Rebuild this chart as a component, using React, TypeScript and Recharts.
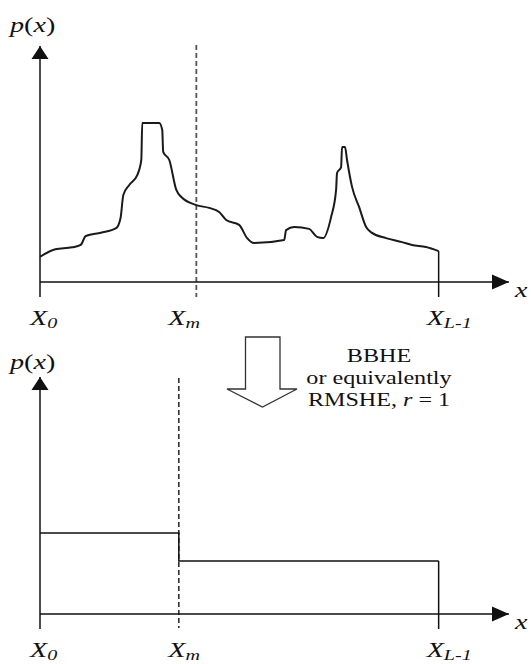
import React from 'react';
import { LineChart, Line, XAxis, YAxis, ReferenceLine, ReferenceDot, Customized } from 'recharts';

// ---------- data ----------
const X_DOMAIN_MAX = 300;
const Y_DOMAIN_MAX = 100;
const X_LAST = 255; // X_{L-1}
const XM_TOP = 100; // X_m in the upper panel
const XM_BOTTOM = 88.8; // X_m in the lower panel

const inputIntensity = [
  0, 9.8, 20.6, 26, 29.3, 39.0, 48.7, 51.5, 53.3, 57.1,
  62.2, 64.8, 65.4, 76.3, 78.2, 78.8, 82.7, 87.2, 90.4, 99.9,
  108.2, 114.6, 119.1, 127.4, 132.5, 137.0, 156.2, 157.4, 162.6, 172.1,
  177.2, 181.1, 186.2, 189.4, 190.0, 192.6, 193.2, 195.1, 196.4, 199.6,
  204.1, 208.6, 212.4, 221.3, 231.6, 238.0, 246.9, 255,
];
const inputDensity = [
  10.7, 13.9, 14.7, 15.7, 19.5, 20.9, 22.8, 27, 36.9, 41.1,
  45.3, 51.7, 67.4, 67.4, 64.4, 55.1, 51.7, 39.0, 36.0, 32.6,
  31.4, 29.7, 26.3, 24.2, 18.6, 16.5, 17.8, 22.0, 23.3, 22.5,
  19.1, 18.6, 27.5, 39.0, 46.2, 48.7, 57.2, 57.2, 51.7, 40.3,
  31.8, 23.3, 20.8, 18.6, 16.9, 15.7, 14.8, 13.1,
];

const outputIntensity = [0, XM_BOTTOM, X_LAST];
const outputDensity = [34.2, 22.4, 22.4];

const topTicks = [0, XM_TOP, X_LAST];
const bottomTicks = [0, XM_BOTTOM, X_LAST];
const tickSubscripts = ['0', 'm', 'L-1'];
const annotationLines = ['BBHE', 'or equivalently', 'RMSHE, '];

const topData = inputIntensity.map((x, i) => ({ x, p: inputDensity[i] }));
const bottomData = outputIntensity.map((x, i) => ({ x, p: outputDensity[i] }));

// ---------- style ----------
const FONT = '"Liberation Serif", "Times New Roman", serif';
const INK = '#111';
const SX = 1.34;

const makeTick = (ticks: number[], xm: number, offsets: number[]) => (props: any) => {
  const { x, y, payload } = props;
  const idx = ticks.indexOf(payload.value);
  const sub = tickSubscripts[idx] ?? '';
  const dx = offsets[idx] ?? 0;
  return (
    <g>
      {payload.value !== xm && (
        <line x1={x} y1={y} x2={x} y2={y + 15} stroke={INK} strokeWidth={1.5} />
      )}
      <text
        transform={`translate(${x + dx},${y + 43}) scale(${SX},1)`}
        fontFamily={FONT}
        fontSize={21}
        fontStyle="italic"
        fill={INK}
      >
        X
        <tspan fontSize={15} dy={3}>
          {sub}
        </tspan>
      </text>
    </g>
  );
};

const XArrow = (props: any) => {
  const { cx, cy } = props;
  return (
    <g>
      <polygon points={`${cx},${cy} ${cx - 17},${cy - 7.5} ${cx - 17},${cy + 7.5}`} fill={INK} />
      <text
        transform={`translate(${cx + 6},${cy + 15}) scale(${SX},1)`}
        fontFamily={FONT}
        fontSize={21}
        fontStyle="italic"
        fill={INK}
      >
        x
      </text>
    </g>
  );
};

const makeYArrow = (labelDy: number) => (props: any) => {
  const { cx, cy } = props;
  return (
    <g>
      <polygon points={`${cx},${cy} ${cx - 8.5},${cy + 13} ${cx + 8.5},${cy + 13}`} fill={INK} />
      <text
        transform={`translate(${cx - 30},${cy + labelDy}) scale(${SX},1)`}
        fontFamily={FONT}
        fontSize={21}
        fill={INK}
      >
        <tspan fontStyle="italic">p</tspan>(<tspan fontStyle="italic">x</tspan>)
      </text>
    </g>
  );
};

const HollowArrow = () => (
  <g>
    <polygon
      points="245.5,7 280,7 280,59 297,59 262.5,77 227,59 245.5,59"
      fill="#fff"
      stroke="#333"
      strokeWidth={1.3}
    />
    {annotationLines.map((t, i) => (
      <text
        key={i}
        transform={`translate(379,${32 + i * 22}) scale(${SX},1)`}
        textAnchor="middle"
        fontFamily={FONT}
        fontSize={18}
        fill={INK}
      >
        {t}
        {i === 2 && (
          <>
            <tspan fontStyle="italic">r</tspan> = 1
          </>
        )}
      </text>
    ))}
  </g>
);

export default function App() {
  return (
    <div style={{ position: 'absolute', left: 0, top: 0, width: 531, height: 664, background: '#fff' }}>
      <div style={{ position: 'absolute', left: 0, top: 0 }}>
        <LineChart
          width={531}
          height={340}
          data={topData}
          margin={{ top: 46, right: 22, bottom: 28, left: 39 }}
        >
          <XAxis
            dataKey="x"
            type="number"
            domain={[0, X_DOMAIN_MAX]}
            ticks={topTicks}
            interval={0}
            tickSize={0}
            tickMargin={0}
            tickLine={false}
            axisLine={{ stroke: INK, strokeWidth: 1.5 }}
            tick={makeTick(topTicks, XM_TOP, [-10, -28, -12])}
          />
          <YAxis
            type="number"
            domain={[0, Y_DOMAIN_MAX]}
            width={1}
            tick={false}
            tickLine={false}
            axisLine={{ stroke: INK, strokeWidth: 1.5 }}
          />
          <ReferenceLine
            segment={[{ x: XM_TOP, y: 100.4 }, { x: XM_TOP, y: -6.4 }]}
            ifOverflow="visible"
            stroke="#555"
            strokeWidth={1.8}
            strokeDasharray="5 3"
          />
          <ReferenceLine
            segment={[{ x: X_LAST, y: inputDensity[inputDensity.length - 1] }, { x: X_LAST, y: 0 }]}
            ifOverflow="visible"
            stroke={INK}
            strokeWidth={1.5}
          />
          <Line
            dataKey="p"
            type="monotone"
            stroke="#1a1a1a"
            strokeWidth={2}
            dot={false}
            activeDot={false}
            isAnimationActive={false}
          />
          <ReferenceDot x={X_DOMAIN_MAX} y={0} r={0} ifOverflow="visible" shape={XArrow} />
          <ReferenceDot x={0} y={Y_DOMAIN_MAX} r={0} ifOverflow="visible" shape={makeYArrow(-14)} />
        </LineChart>
      </div>
      <div style={{ position: 'absolute', left: 0, top: 330 }}>
        <LineChart
          width={531}
          height={334}
          data={bottomData}
          margin={{ top: 47, right: 22, bottom: 20, left: 39 }}
        >
          <XAxis
            dataKey="x"
            type="number"
            domain={[0, X_DOMAIN_MAX]}
            ticks={bottomTicks}
            interval={0}
            tickSize={0}
            tickMargin={0}
            tickLine={false}
            axisLine={{ stroke: INK, strokeWidth: 1.5 }}
            tick={makeTick(bottomTicks, XM_BOTTOM, [-10, -10.5, -12])}
          />
          <YAxis
            type="number"
            domain={[0, Y_DOMAIN_MAX]}
            width={1}
            tick={false}
            tickLine={false}
            axisLine={{ stroke: INK, strokeWidth: 1.5 }}
          />
          <ReferenceLine
            segment={[{ x: XM_BOTTOM, y: 99.6 }, { x: XM_BOTTOM, y: -5.9 }]}
            ifOverflow="visible"
            stroke="#222"
            strokeWidth={1.5}
            strokeDasharray="5 3"
          />
          <ReferenceLine
            segment={[{ x: X_LAST, y: outputDensity[outputDensity.length - 1] }, { x: X_LAST, y: 0 }]}
            ifOverflow="visible"
            stroke={INK}
            strokeWidth={1.5}
          />
          <Line
            dataKey="p"
            type="stepAfter"
            stroke={INK}
            strokeWidth={1.5}
            dot={false}
            activeDot={false}
            isAnimationActive={false}
          />
          <ReferenceDot x={X_DOMAIN_MAX} y={0} r={0} ifOverflow="visible" shape={XArrow} />
          <ReferenceDot x={0} y={Y_DOMAIN_MAX} r={0} ifOverflow="visible" shape={makeYArrow(-8)} />
          <Customized component={HollowArrow} />
        </LineChart>
      </div>
    </div>
  );
}
